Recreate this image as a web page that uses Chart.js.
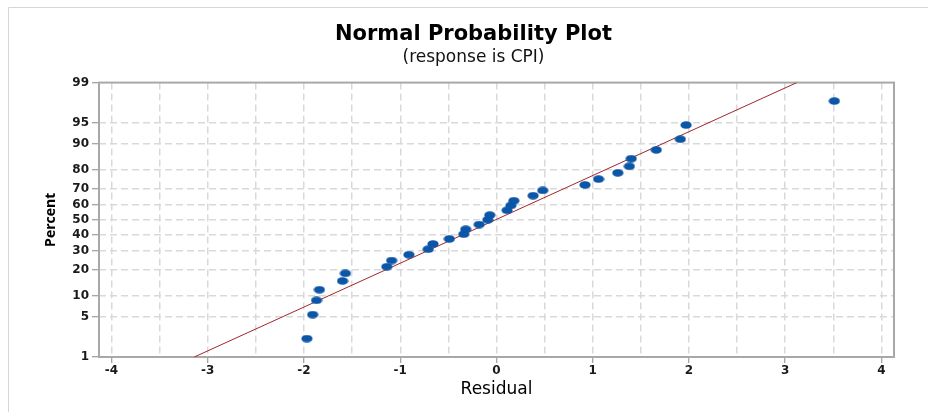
<!DOCTYPE html>
<html>
<head>
<meta charset="utf-8">
<script src="https://cdn.jsdelivr.net/npm/chart.js@4.4.1/dist/chart.umd.min.js"></script>
<style>
  html, body { margin: 0; padding: 0; background: #fff; }
  #wrap { width: 928px; height: 412px; }
</style>
</head>
<body>
<div id="wrap"><canvas id="graficaProbabilidad" width="928" height="412"></canvas></div>
<script>
// Residuos (eje X)
var residuos = [-1.97, -1.91, -1.87, -1.84, -1.60, -1.57, -1.14, -1.09, -0.91, -0.71, -0.66,
    -0.49, -0.34, -0.32, -0.18, -0.09, -0.07, 0.11, 0.15, 0.18, 0.38, 0.48, 0.92, 1.06,
    1.26, 1.38, 1.40, 1.66, 1.91, 1.97, 3.51];
// Porcentaje acumulado de cada punto (eje Y)
var porcentajes = [2.2, 5.4, 8.6, 11.8, 15.0, 18.2, 21.3, 24.5, 27.7, 30.9, 34.1, 37.3, 40.4,
    43.6, 46.8, 50.0, 53.2, 56.4, 59.6, 62.7, 65.9, 69.1, 72.3, 75.5, 78.7, 81.8, 85.0,
    88.2, 91.4, 94.6, 97.8];
// Recta ajustada (extremos)
var rectaX = [-3.14, 3.12];
var rectaP = [1, 99];
// Marcas de los ejes
var ticksPorcentaje = [1, 5, 10, 20, 30, 40, 50, 60, 70, 80, 90, 95, 99];
var ticksResiduo = [-4, -3.5, -3, -2.5, -2, -1.5, -1, -0.5, 0, 0.5, 1, 1.5, 2, 2.5, 3, 3.5, 4];

// Inversa de la normal estandar (escala de probabilidad)
function probit(p) {
    var a = [-3.969683028665376e+01, 2.209460984245205e+02, -2.759285104469687e+02, 1.383577518672690e+02, -3.066479806614716e+01, 2.506628277459239e+00];
    var b = [-5.447609879822406e+01, 1.615858368580409e+02, -1.556989798598866e+02, 6.680131188771972e+01, -1.328068155288572e+01];
    var c = [-7.784894002430293e-03, -3.223964580411365e-01, -2.400758277161838e+00, -2.549671010229297e+00, 4.374664141464968e+00, 2.938163982698783e+00];
    var d = [7.784695709041462e-03, 3.224671290700398e-01, 2.445134137142996e+00, 3.754408661907416e+00];
    var pl = 0.02425, q, r;
    if (p < pl) {
        q = Math.sqrt(-2 * Math.log(p));
        return (((((c[0]*q+c[1])*q+c[2])*q+c[3])*q+c[4])*q+c[5]) / ((((d[0]*q+d[1])*q+d[2])*q+d[3])*q+1);
    }
    if (p > 1 - pl) {
        q = Math.sqrt(-2 * Math.log(1 - p));
        return -(((((c[0]*q+c[1])*q+c[2])*q+c[3])*q+c[4])*q+c[5]) / ((((d[0]*q+d[1])*q+d[2])*q+d[3])*q+1);
    }
    q = p - 0.5; r = q * q;
    return (((((a[0]*r+a[1])*r+a[2])*r+a[3])*r+a[4])*r+a[5])*q / (((((b[0]*r+b[1])*r+b[2])*r+b[3])*r+b[4])*r+1);
}

var puntos = residuos.map(function (x, i) { return {x: x, y: probit(porcentajes[i] / 100)}; });
var recta = rectaX.map(function (x, i) { return {x: x, y: probit(rectaP[i] / 100)}; });
var yMin = probit(0.01), yMax = probit(0.99);

// Punto ovalado como en el original
var punto = document.createElement('canvas');
punto.width = 12; punto.height = 8;
var pctx = punto.getContext('2d');
pctx.fillStyle = '#0B56A6';
pctx.beginPath();
pctx.ellipse(6, 4, 5.6, 3.8, 0, 0, Math.PI * 2);
pctx.fill();

// Marco exterior y borde del area de trazado
var marcos = {
    id: 'marcos',
    beforeDraw: function (chart) {
        var c = chart.ctx;
        c.save();
        c.fillStyle = '#fff';
        c.fillRect(0, 0, chart.width, chart.height);
        c.strokeStyle = '#d6d6d6';
        c.lineWidth = 1;
        c.beginPath();
        c.moveTo(8.5, 7.5); c.lineTo(chart.width, 7.5);
        c.moveTo(8.5, 7.5); c.lineTo(8.5, chart.height);
        c.stroke();
        c.restore();
    },
    beforeDatasetsDraw: function (chart) {
        var a = chart.chartArea, c = chart.ctx;
        c.save();
        c.strokeStyle = '#a8a8a8';
        c.lineWidth = 2;
        c.strokeRect(a.left, a.top, a.right - a.left, a.bottom - a.top);
        c.restore();
    }
};

var fuente = "'DejaVu Sans', sans-serif";
var ctx = document.getElementById('graficaProbabilidad').getContext('2d');
var grafica = new Chart(ctx, {
    type: 'scatter',
    data: {
        datasets: [{
            data: puntos,
            pointStyle: punto,
            pointRadius: 5,
            order: 1
        }, {
            type: 'line',
            data: recta,
            borderColor: '#A3262A',
            borderWidth: 1,
            pointRadius: 0,
            fill: false,
            order: 2
        }]
    },
    options: {
        responsive: false,
        animation: false,
        // el titulo queda centrado un poco a la derecha del lienzo
        layout: { padding: { left: 53, right: 34, top: 0, bottom: 0 } },
        plugins: {
            legend: { display: false },
            tooltip: { enabled: false },
            title: {
                display: true,
                text: 'Normal Probability Plot',
                color: '#000',
                font: { family: fuente, size: 21, weight: 'bold' },
                padding: { top: 22, bottom: 0 }
            },
            subtitle: {
                display: true,
                text: '(response is CPI)',
                color: '#111',
                font: { family: fuente, size: 17 },
                padding: { top: 0, bottom: 15 }
            }
        },
        scales: {
            x: {
                type: 'linear',
                min: -4.13,
                max: 4.13,
                afterBuildTicks: function (scale) {
                    scale.ticks = ticksResiduo.map(function (v) { return {value: v}; });
                },
                afterFit: function (scale) { scale.height = 55; },
                border: { display: false, dash: [7, 4] },
                grid: {
                    color: '#d9d9d9',
                    lineWidth: 1.5,
                    tickLength: 6,
                    tickBorderDash: [],
                    tickWidth: 1,
                    tickColor: function (c) { return Number.isInteger(c.tick.value) ? '#888' : 'rgba(0,0,0,0)'; }
                },
                ticks: {
                    autoSkip: false,
                    maxRotation: 0,
                    padding: 1,
                    color: '#1a1a1a',
                    font: { family: fuente, size: 12, weight: 'bold' },
                    callback: function (v) { return Number.isInteger(v) ? String(v) : ''; }
                },
                title: {
                    display: true,
                    text: 'Residual',
                    color: '#000',
                    font: { family: fuente, size: 17 },
                    padding: { top: 0, bottom: 12 }
                }
            },
            y: {
                type: 'linear',
                min: yMin,
                max: yMax,
                afterBuildTicks: function (scale) {
                    scale.ticks = ticksPorcentaje.map(function (p) { return {value: probit(p / 100)}; });
                },
                afterFit: function (scale) { scale.width = 46; },
                border: { display: false, dash: [7, 4] },
                grid: {
                    color: function (c) {
                        return (c.index === 0 || c.index === ticksPorcentaje.length - 1) ? 'rgba(0,0,0,0)' : '#d9d9d9';
                    },
                    lineWidth: 1.5,
                    tickLength: 7,
                    tickBorderDash: [],
                    tickWidth: 1,
                    tickColor: '#888'
                },
                ticks: {
                    autoSkip: false,
                    padding: 3,
                    color: '#1a1a1a',
                    font: { family: fuente, size: 12, weight: 'bold' },
                    callback: function (v, i) { return String(ticksPorcentaje[i]); }
                },
                title: {
                    display: true,
                    text: 'Percent',
                    color: '#000',
                    font: { family: "'Open Sans', sans-serif", size: 14, weight: 'bold' },
                    padding: { top: -10.4, bottom: 0 }
                }
            }
        }
    },
    plugins: [marcos]
});
</script>
</body>
</html>
